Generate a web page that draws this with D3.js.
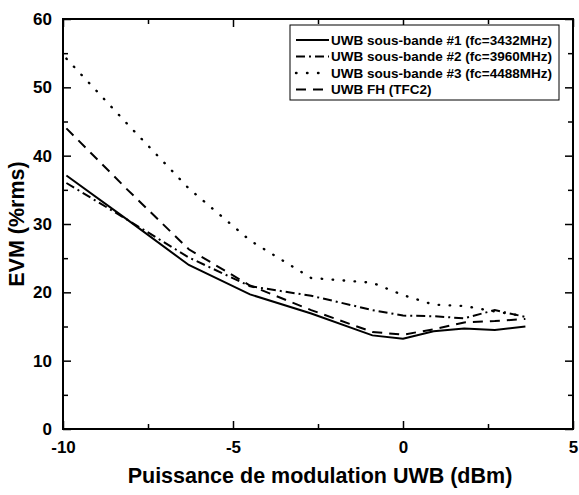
<!DOCTYPE html>
<html><head><meta charset="utf-8">
<script src="https://cdn.jsdelivr.net/npm/d3@7"></script>
<style>body{margin:0;background:#fff}svg{display:block}text{font-family:"Liberation Sans",Arial,sans-serif;font-weight:bold;fill:#000}</style>
</head><body>
<svg id="c" width="579" height="495"></svg>
<script>
const xValues = [-9.9, -8.1, -6.3, -4.5, -2.7, -0.9, 0, 0.9, 1.8, 2.7, 3.6];
const sb1 = [37.1, 30.6, 24.0, 19.7, 16.9, 13.7, 13.2, 14.3, 14.7, 14.5, 15.0];
const sb2 = [36.0, 30.6, 25.1, 20.9, 19.5, 17.4, 16.6, 16.5, 16.2, 17.4, 16.4];
const sb3 = [54.2, 44.6, 35.2, 27.6, 22.1, 21.4, 19.6, 18.2, 18.0, 17.2, 16.5];
const fh  = [44.0, 35.0, 26.3, 21.0, 17.4, 14.2, 13.8, 14.6, 15.6, 15.8, 16.1];
const seriesNames = ["UWB sous-bande #1 (fc=3432MHz)", "UWB sous-bande #2 (fc=3960MHz)", "UWB sous-bande #3 (fc=4488MHz)", "UWB FH (TFC2)"];
const xTickLabels = [-10, -5, 0, 5];
const yTickLabels = [0, 10, 20, 30, 40, 50, 60];

const styles = [
  {dash: null, w: 2, cap: "butt"},
  {dash: "9,4,2,4", w: 2, cap: "butt"},
  {dash: "0.5,10.5", w: 2.4, cap: "round"},
  {dash: "10,7", w: 2, cap: "butt"}
];
const data = [sb1, sb2, sb3, fh];

const svg = d3.select("#c");
const L = 63, R = 573, T = 19, B = 429;
const x = d3.scaleLinear().domain([-10, 5]).range([L, R]);
const y = d3.scaleLinear().domain([0, 60]).range([B, T]);

function addAxis(gen, tr) {
  const g = svg.append("g").attr("transform", tr).call(gen);
  g.select(".domain").remove();
  g.selectAll("line").attr("stroke", "#000").attr("stroke-width", 1.5);
  return g;
}
const xMinor = d3.range(-10, 5.01, 2.5).filter(v => v % 5 !== 0);
const yMinor = d3.range(5, 60, 10);
const fmt = d => String(d);
addAxis(d3.axisBottom(x).tickValues(xTickLabels).tickSize(-8).tickFormat(fmt).tickPadding(12), `translate(0,${B})`)
  .selectAll("text").attr("font-size", 17);
addAxis(d3.axisBottom(x).tickValues(xMinor).tickSize(-5).tickFormat(""), `translate(0,${B})`);
addAxis(d3.axisTop(x).tickValues(xTickLabels).tickSize(-8).tickFormat(""), `translate(0,${T})`);
addAxis(d3.axisTop(x).tickValues(xMinor).tickSize(-5).tickFormat(""), `translate(0,${T})`);
addAxis(d3.axisLeft(y).tickValues(yTickLabels).tickSize(-8).tickFormat(fmt).tickPadding(11), `translate(${L},0)`)
  .selectAll("text").attr("font-size", 17);
addAxis(d3.axisLeft(y).tickValues(yMinor).tickSize(-5).tickFormat(""), `translate(${L},0)`);
addAxis(d3.axisRight(y).tickValues(yTickLabels).tickSize(-8).tickFormat(""), `translate(${R},0)`);
addAxis(d3.axisRight(y).tickValues(yMinor).tickSize(-5).tickFormat(""), `translate(${R},0)`);

svg.append("rect").attr("x", L).attr("y", T).attr("width", R - L).attr("height", B - T)
  .attr("fill", "none").attr("stroke", "#000").attr("stroke-width", 2);

const line = d3.line().x((d, i) => x(xValues[i])).y(d => y(d));
data.forEach((s, k) => {
  svg.append("path").datum(s).attr("d", line).attr("fill", "none")
    .attr("stroke", "#000").attr("stroke-width", styles[k].w)
    .attr("stroke-dasharray", styles[k].dash).attr("stroke-linecap", styles[k].cap);
});

const lg = svg.append("g");
lg.append("rect").attr("x", 290).attr("y", 25).attr("width", 269).attr("height", 75)
  .attr("fill", "#fff").attr("stroke", "#000").attr("stroke-width", 1);
seriesNames.forEach((n, k) => {
  const yy = 40 + k * 16.5;
  lg.append("line").attr("x1", 296).attr("x2", 329).attr("y1", yy).attr("y2", yy)
    .attr("stroke", "#000").attr("stroke-width", styles[k].w).attr("stroke-dasharray", styles[k].dash)
    .attr("stroke-linecap", styles[k].cap);
  lg.append("text").attr("x", 331).attr("y", yy).attr("dy", "0.36em").attr("font-size", 13.5).text(n);
});

svg.append("text").attr("x", 320).attr("y", 483).attr("text-anchor", "middle")
  .attr("font-size", 21.5).text("Puissance de modulation UWB (dBm)");
svg.append("text").attr("transform", `translate(24,${(T + B) / 2}) rotate(-90)`).attr("text-anchor", "middle")
  .attr("font-size", 21.5).text("EVM (%rms)");
</script>
</body></html>
